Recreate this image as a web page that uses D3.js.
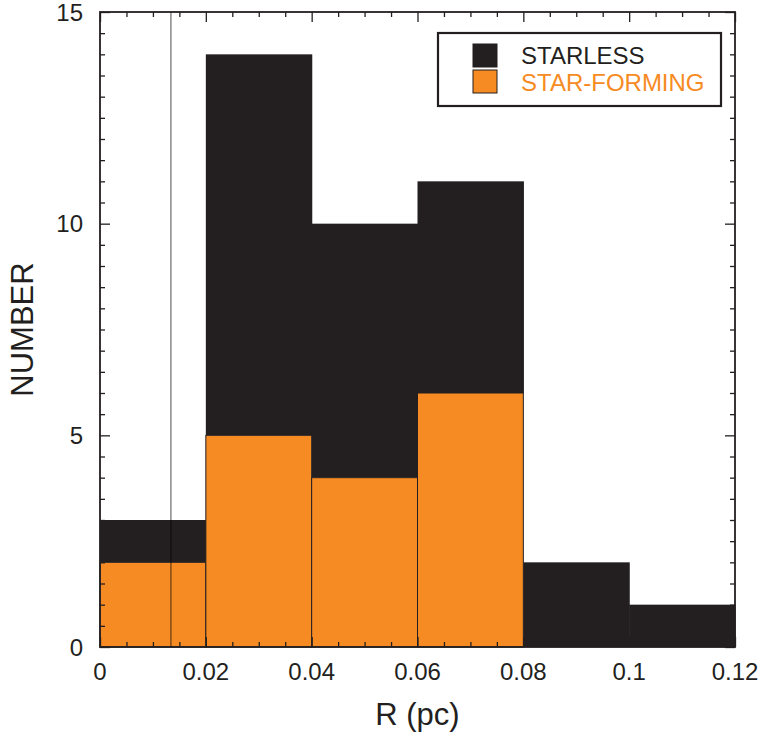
<!DOCTYPE html>
<html>
<head>
<meta charset="utf-8">
<script src="https://cdn.jsdelivr.net/npm/d3@7"></script>
<style>
  html, body { margin: 0; padding: 0; background: #fff; }
  svg { display: block; font-family: "Liberation Sans", Arial, Helvetica, sans-serif; }
</style>
</head>
<body>
<svg id="chart" width="761" height="736"></svg>
<script>
// ---- data ----
const binEdges = [0, 0.02, 0.04, 0.06, 0.08, 0.10, 0.12];
const starFormingCounts = [2, 5, 4, 6, 0, 0];
const starlessCounts = [1, 9, 6, 5, 2, 1];
const xTickValues = [0, 0.02, 0.04, 0.06, 0.08, 0.1, 0.12];
const xTickLabels = ["0", "0.02", "0.04", "0.06", "0.08", "0.1", "0.12"];
const yTickValues = [0, 5, 10, 15];
const markerR = 0.0134;
const legendLabels = ["STARLESS", "STAR-FORMING"];

(function () {
const BLACK = "#231f20", ORANGE = "#f68b23";

const svg = d3.select("#chart");
const m = { left: 100, right: 26, top: 12, bottom: 89 };
const W = 761, H = 736;
const x = d3.scaleLinear().domain([0, 0.12]).range([m.left, W - m.right]);
const y = d3.scaleLinear().domain([0, 15]).range([H - m.bottom, m.top]);

const bins = starFormingCounts.map((sf, i) => ({
  x0: binEdges[i], x1: binEdges[i + 1], sf: sf, sl: starlessCounts[i]
}));

// starless stacked on top of star-forming
svg.append("g").selectAll("rect").data(bins).join("rect")
  .attr("x", d => x(d.x0)).attr("width", d => x(d.x1) - x(d.x0) + 0.6)
  .attr("y", d => y(d.sf + d.sl)).attr("height", d => y(d.sf) - y(d.sf + d.sl))
  .attr("fill", BLACK);

svg.append("g").selectAll("rect").data(bins.filter(d => d.sf > 0)).join("rect")
  .attr("x", d => x(d.x0)).attr("width", d => x(d.x1) - x(d.x0))
  .attr("y", d => y(d.sf)).attr("height", d => y(0) - y(d.sf))
  .attr("fill", ORANGE).attr("stroke", BLACK).attr("stroke-width", 1);

// vertical marker line
svg.append("line")
  .attr("x1", x(markerR)).attr("x2", x(markerR))
  .attr("y1", y(15)).attr("y2", y(0))
  .attr("stroke", "#000").attr("stroke-opacity", 0.5).attr("stroke-width", 1.4);

// axes with inward ticks
const xMinor = d3.range(0, 0.1201, 0.005);
const yMinor = d3.range(0, 15.01, 0.5);
const isMajorX = v => Math.abs(v / 0.02 - Math.round(v / 0.02)) < 1e-6;
const isMajorY = v => Math.abs(v / 5 - Math.round(v / 5)) < 1e-6;

const axB = d3.axisBottom(x).tickValues(xMinor).tickSizeInner(0).tickSizeOuter(0).tickFormat("");
const gB = svg.append("g").attr("transform", `translate(0,${y(0)})`).call(axB);
gB.select(".domain").remove();
gB.selectAll(".tick line").attr("y2", d => -(isMajorX(d) ? 10 : 5)).attr("stroke", BLACK).attr("stroke-width", 1.3);

const axT = d3.axisTop(x).tickValues(xMinor).tickSizeInner(0).tickSizeOuter(0).tickFormat("");
const gT = svg.append("g").attr("transform", `translate(0,${y(15)})`).call(axT);
gT.select(".domain").remove();
gT.selectAll(".tick line").attr("y2", d => (isMajorX(d) ? 10 : 5)).attr("stroke", BLACK).attr("stroke-width", 1.3);

const axL = d3.axisLeft(y).tickValues(yMinor).tickSizeInner(0).tickSizeOuter(0).tickFormat("");
const gL = svg.append("g").attr("transform", `translate(${x(0)},0)`).call(axL);
gL.select(".domain").remove();
gL.selectAll(".tick line").attr("x2", d => (isMajorY(d) ? 10 : 5)).attr("stroke", BLACK).attr("stroke-width", 1.3);

const axR = d3.axisRight(y).tickValues(yMinor).tickSizeInner(0).tickSizeOuter(0).tickFormat("");
const gR = svg.append("g").attr("transform", `translate(${x(0.12)},0)`).call(axR);
gR.select(".domain").remove();
gR.selectAll(".tick line").attr("x2", d => -(isMajorY(d) ? 10 : 5)).attr("stroke", BLACK).attr("stroke-width", 1.3);

// tick labels
svg.append("g").selectAll("text").data(xTickValues).join("text")
  .attr("x", d => x(d)).attr("y", y(0) + 33)
  .attr("text-anchor", "middle").attr("font-size", 24).attr("fill", BLACK)
  .text((d, i) => xTickLabels[i]);
svg.append("g").selectAll("text").data(yTickValues).join("text")
  .attr("x", x(0) - 17).attr("y", d => y(d)).attr("dy", "0.36em")
  .attr("text-anchor", "end").attr("font-size", 24).attr("fill", BLACK)
  .text(d => d);

// frame
svg.append("rect")
  .attr("x", x(0)).attr("y", y(15))
  .attr("width", x(0.12) - x(0)).attr("height", y(0) - y(15))
  .attr("fill", "none").attr("stroke", BLACK).attr("stroke-width", 1.8);

// axis titles
svg.append("text").attr("x", (x(0) + x(0.12)) / 2).attr("y", 725)
  .attr("text-anchor", "middle").attr("font-size", 31).attr("fill", BLACK).text("R (pc)");
svg.append("text").attr("transform", `translate(33,${(y(0) + y(15)) / 2}) rotate(-90)`)
  .attr("text-anchor", "middle").attr("font-size", 31).attr("fill", BLACK).text("NUMBER");

// legend
const lg = svg.append("g");
lg.append("rect").attr("x", 438).attr("y", 33).attr("width", 283).attr("height", 73)
  .attr("fill", "#fff").attr("stroke", BLACK).attr("stroke-width", 2.2);
const legendColors = [BLACK, ORANGE];
lg.selectAll("rect.sw").data(legendLabels).join("rect").attr("class", "sw")
  .attr("x", 473).attr("y", (d, i) => 44 + i * 26).attr("width", 24).attr("height", 23)
  .attr("fill", (d, i) => legendColors[i]).attr("stroke", BLACK).attr("stroke-width", 1);
lg.selectAll("text").data(legendLabels).join("text")
  .attr("x", 521).attr("y", (d, i) => 64 + i * 27)
  .attr("font-size", 24).attr("fill", (d, i) => legendColors[i]).text(d => d);
})();
</script>
</body>
</html>
